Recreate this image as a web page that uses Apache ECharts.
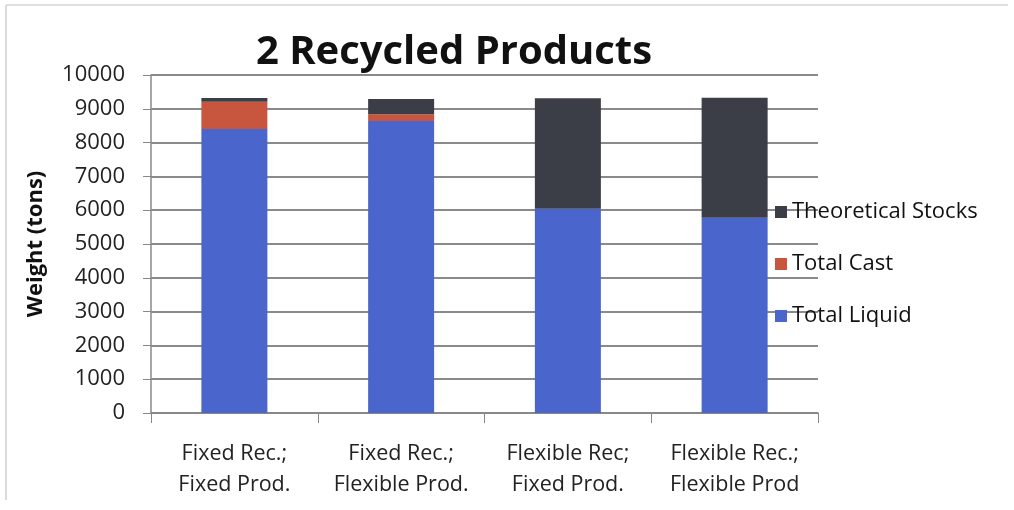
<!DOCTYPE html>
<html>
<head>
<meta charset="utf-8">
<script src="https://cdn.jsdelivr.net/npm/echarts@6/dist/echarts.min.js"></script>
<style>
html, body { margin: 0; padding: 0; background: #fff; }
#main { width: 1014px; height: 510px; }
</style>
</head>
<body>
<div id="main"></div>
<script>
var categories = ['Fixed Rec.;\nFixed Prod.', 'Fixed Rec.;\nFlexible Prod.', 'Flexible Rec;\nFixed Prod.', 'Flexible Rec.;\nFlexible Prod']
var totalLiquid = [8400, 8640, 6040, 5780]
var totalCast = [810, 200, 0, 0]
var theoreticalStocks = [110, 450, 3270, 3550]

var font = 'Open Sans'
var myChart = echarts.init(document.getElementById('main'), null, { renderer: 'canvas' });
var option = {
    animation: false,
    // faint frame of the scanned chart
    graphic: [
        { type: 'line', shape: { x1: 6, y1: 5, x2: 1008, y2: 5 }, style: { stroke: '#d4d4d4', lineWidth: 1.5 } },
        { type: 'line', shape: { x1: 6, y1: 5, x2: 6, y2: 500 }, style: { stroke: '#cfcfcf', lineWidth: 1.5 } }
    ],
    title: {
        text: '2 Recycled Products',
        left: 449,
        textAlign: 'center',
        top: 28,
        textStyle: { fontFamily: font, fontSize: 40, fontWeight: 'bold', color: '#111' }
    },
    legend: {
        orient: 'vertical',
        left: 770,
        top: 196,
        itemWidth: 12,
        itemHeight: 12,
        itemGap: 30,
        icon: 'rect',
        data: ['Theoretical Stocks', 'Total Cast', 'Total Liquid'],
        textStyle: { fontFamily: font, fontSize: 22, color: '#111' }
    },
    grid: { left: 151, right: 196, top: 75, bottom: 97 },
    xAxis: {
        type: 'category',
        data: categories,
        axisLine: { lineStyle: { color: '#888', width: 1.5 } },
        axisTick: { show: true, length: 10, lineStyle: { color: '#888' } },
        axisLabel: { interval: 0, fontFamily: font, fontSize: 21.5, color: '#222', margin: 25, lineHeight: 31 }
    },
    yAxis: {
        type: 'value',
        min: 0,
        max: 10000,
        interval: 1000,
        name: 'Weight (tons)',
        nameLocation: 'middle',
        nameGap: 104,
        nameTextStyle: { fontFamily: font, fontSize: 22, fontWeight: 'bold', color: '#111' },
        axisLine: { show: true, lineStyle: { color: '#888', width: 1.5 } },
        axisTick: { show: true, length: 8, lineStyle: { color: '#888' } },
        axisLabel: {
            fontFamily: font, fontSize: 22, color: '#222', margin: 26,
            formatter: function (v) { return String(v) }
        },
        splitLine: { lineStyle: { color: '#8a8a8a', width: 2 } }
    },
    series: [
        {
            name: 'Total Liquid',
            type: 'bar',
            stack: 'total',
            barWidth: 66,
            itemStyle: { color: '#4a66cc' },
            data: totalLiquid
        },
        {
            name: 'Total Cast',
            type: 'bar',
            stack: 'total',
            itemStyle: { color: '#c8553d' },
            data: totalCast
        },
        {
            name: 'Theoretical Stocks',
            type: 'bar',
            stack: 'total',
            itemStyle: { color: '#3b3e46' },
            data: theoreticalStocks
        }
    ]
};
myChart.setOption(option);
</script>
</body>
</html>
